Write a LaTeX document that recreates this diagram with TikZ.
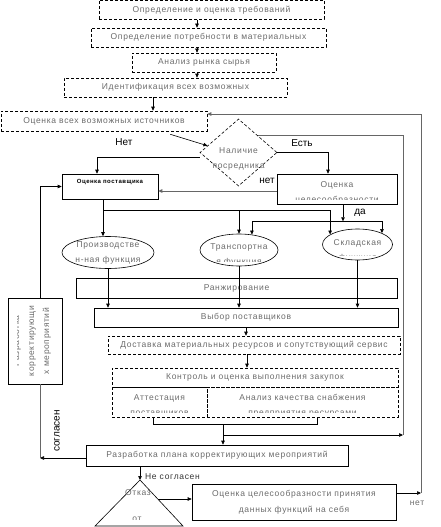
\documentclass[tikz,border=0pt]{standalone}
\usepackage{fontspec}
\setmainfont{Liberation Sans}[LetterSpace=8]
\newfontfamily\lblfont{Liberation Sans}
\usetikzlibrary{shapes.geometric,arrows.meta,calc}
\definecolor{txtgray}{gray}{0.42}
\definecolor{linegray}{gray}{0.4}
\tikzset{
  every node/.style={font=\fontsize{8.5}{15}\selectfont, text=txtgray, inner sep=0pt, align=center},
  dbox/.style={draw, dash pattern=on 3pt off 2pt},
  sbox/.style={draw},
  oval/.style={draw, ellipse},
  rhomb/.style={draw, diamond, dash pattern=on 3pt off 2pt},
  lbl/.style={text=black, font=\lblfont\fontsize{10}{11}\selectfont},
  loopline/.style={draw=linegray, line width=0.9pt},
  >={Triangle[length=4pt,width=3.5pt]},
}
\newcommand{\flowbox}[4][]{\node[#1] at (#2) (#3) {#4}}
\newcommand{\cutbox}[5][]{\node[#1, path picture={
    \clip ([shift={(3pt,4.5pt)}]path picture bounding box.south west) rectangle ([shift={(-3pt,-3pt)}]path picture bounding box.north east);
    \node at ([yshift=#4]path picture bounding box.center) {#5};}] at (#2) (#3) {}}

\begin{document}
\begin{tikzpicture}[x=1pt,y=-1pt,line width=0.6pt]
	\useasboundingbox (0,0) rectangle (441,527);
	% top chain
	\flowbox[dbox, minimum width=225, minimum height=19]{211.5,9.8}{req}{Определение и оценка требований};
	\flowbox[dbox, minimum width=235, minimum height=19]{208.5,37.5}{need}{Определение потребности в материальных};
	\flowbox[dbox, minimum width=144, minimum height=19]{204,62.5}{market}{Анализ рынка сырья};
	\flowbox[dbox, minimum width=223, minimum height=19]{175.5,87.5}{ident}{Идентификация всех возможных};
	\flowbox[dbox, minimum width=206, minimum height=20]{104,121}{sources}{Оценка всех возможных источников};
	\flowbox[rhomb, minimum width=77, minimum height=67]{238.5,152.5}{mediator}{};
	\node (mediatortxt) at (238.5,158.5) {Наличие\\посредника};
	% evaluation
	\cutbox[sbox, minimum width=96, minimum height=25]{110,186.5}{supeval}{4.5pt}{\fontsize{6}{7}\selectfont\bfseries\color{black}Оценка поставщика};
	\cutbox[sbox, minimum width=120, minimum height=30]{337,189}{expedient}{-3.5pt}{Оценка\\целесообразности};
	\cutbox[oval, minimum width=92, minimum height=32]{108,252.5}{prodfn}{0pt}{Производстве\\н-ная функция};
	\cutbox[oval, minimum width=78, minimum height=32]{239,250}{transfn}{-5pt}{Транспортна\\я функция};
	\cutbox[oval, minimum width=70, minimum height=31]{357.5,244.5}{storefn}{-6pt}{Складская\\функция};
	\flowbox[sbox, minimum width=321, minimum height=20]{236.5,288}{ranking}{Ранжирование};
	\flowbox[sbox, minimum width=304, minimum height=19]{246,317.5}{choice}{Выбор поставщиков};
	% delivery and control
	\flowbox[dbox, minimum width=292, minimum height=18]{254,345}{delivery}{Доставка материальных ресурсов и сопутствующий сервис};
	\flowbox[dbox, minimum width=286, minimum height=19]{255,377.5}{control}{Контроль и оценка выполнения закупок};
	\cutbox[dbox, minimum width=95, minimum height=30]{159.5,402}{attest}{-3.5pt}{Аттестация\\поставщиков};
	\cutbox[dbox, minimum width=191, minimum height=30]{302.5,402}{quality}{-3.5pt}{Анализ качества снабжения\\предприятия ресурсами};
	\flowbox[sbox, minimum width=262, minimum height=21]{217,455.5}{plan}{Разработка плана корректирующих мероприятий};
	\flowbox[sbox, minimum width=204, minimum height=36, font=\fontsize{8.5}{16}\selectfont]{294,502}{selfeval}{Оценка целесообразности принятия\\данных функций на себя};
	\node[sbox, minimum width=54, minimum height=86, path picture={
		\clip ([xshift=9pt]path picture bounding box.south west) rectangle (path picture bounding box.north east);
		\node[rotate=90] (correctivetxt) at ([xshift=-3pt]path picture bounding box.center) {Разработка\\корректирующи\\х мероприятий};}] at (35,341) (corrective) {};
	% refusal
	\draw (140,480) coordinate (refuse) -- (183,526) -- (95,526) -- cycle;
	\node (refusetxt) at (138,493) {Отказ};
	\begin{scope}
		\clip (95,480) rectangle (183,519.5);
		\node (refusetxt2) at (137,519) {от};
	\end{scope}

	% connectors
	\draw[->] ([xshift=-14.5pt]req.south) -- ([xshift=-14.5pt]req.south |- need.north);
	\draw[->] ([xshift=-11.5pt]need.south) -- ([xshift=-11.5pt]need.south |- market.north);
	\draw[->] ([xshift=-7pt]market.south) -- ([xshift=-7pt]market.south |- ident.north);
	\draw[->] ([xshift=-22.5pt]ident.south) -- ([xshift=-22.5pt]ident.south |- sources.north);
	\draw[->] ([xshift=-37pt,yshift=-3pt]sources.south east) -- ($(mediator.west)!0.2!(mediator.north)$);
	\draw[->] ([yshift=-5pt]mediator.west) -| ([xshift=-13pt]supeval.north);
	\draw[->] (mediator.east) -| ([xshift=-9pt]expedient.north);
	\node[lbl] (no) at (124,142) {Нет};
	\node[lbl] (yes) at (302,143) {Есть};
	\draw[->, loopline] ([yshift=-2pt]expedient.west) -- ([yshift=-2pt]expedient.west -| supeval.east);
	\node[lbl] (no2) at (267,181) {нет};
	\draw[->] ([xshift=5pt]corrective.north) |- (supeval.west);

	\coordinate (split) at ([xshift=-7pt,yshift=-11pt]supeval.south);
	\draw[->] ([xshift=-7pt]supeval.south) -- ([xshift=-7pt]supeval.south |- prodfn.north);
	\draw[->] (split) -| (storefn.160);
	\draw[->] (split -| transfn.north) -- (transfn.north);
	\coordinate (yesfork) at ([xshift=6pt,yshift=-17pt]expedient.south);
	\draw[->] ([xshift=6pt]expedient.south) -- (yesfork);
	\draw[->] (yesfork) -| (transfn.50);
	\draw[->] (yesfork) -| (storefn.25);
	\node[lbl] (yes2) at (360,213) {да};

	\draw[->] (prodfn.south) -- (prodfn.south |- choice.north);
	\draw[->] (transfn.south) -- (transfn.south |- choice.north);
	\draw[->] (storefn.south) -- (storefn.south |- choice.north);
	\draw[->] (choice.south) -- (choice.south |- delivery.north);
	\draw[->] ([xshift=-7pt]delivery.south) -- ([xshift=-7pt]delivery.south |- control.north);

	\coordinate (merge) at ([xshift=63.5pt,yshift=-7pt]attest.south);
	\draw ([xshift=-6.5pt]attest.south) |- (merge) -| ([xshift=14.5pt]quality.south);
	\draw[->] (merge) -- (merge |- plan.north);
	\coordinate (inner) at (403,435);
	\draw[->] (merge |- inner) -- (inner);
	\draw[loopline] (inner) |- (mediator.north east);

	\coordinate (outer) at (421,493);
	\draw[->] ([yshift=9pt]selfeval.east) -- (outer);
	\draw[->, loopline] (outer) |- ([yshift=7pt]sources.east);
	\node (no3) at (417,503) {нет};

	\coordinate (agree) at (40,458);
	\draw[->] ([yshift=-2.5pt]plan.west) -- (agree);
	\draw[loopline] (agree) -- (agree |- corrective.south);
	\node[lbl, rotate=90] (agreetxt) at (57,431) {согласен};

	\draw[->] ([xshift=-77pt]plan.south) -- (refuse);
	\node[text=black!80] (disagree) at (172.5,477) {Не согласен};
	\coordinate (refuseside) at ([shift={(18pt,-19pt)}]refuse);
	\draw[->] (refuseside) -- (refuseside -| selfeval.west);
\end{tikzpicture}
\end{document}
